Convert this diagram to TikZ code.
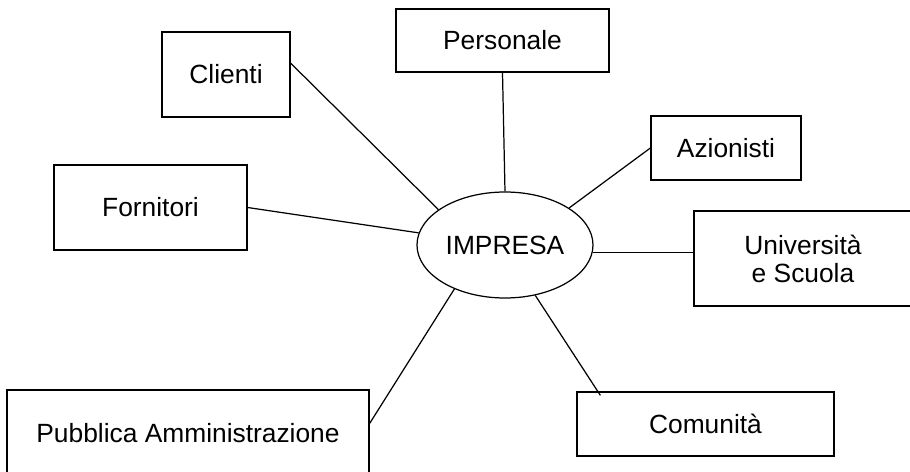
\documentclass[tikz,border=0pt]{standalone}
\usepackage{fontspec}
\setmainfont{Liberation Sans}
\usetikzlibrary{shapes.geometric}

\begin{document}
\begin{tikzpicture}[
    box/.style={draw, rectangle, line width=0.7pt, inner sep=2pt, font=\fontsize{15}{16}\selectfont},
    link/.style={line width=0.7pt}
  ]
  \useasboundingbox (0,0) rectangle (18.2,-9.44);
  \clip (0,0) rectangle (18.2,-9.44);
  \node[box, minimum width=2.56cm, minimum height=1.70cm] (cli)  at (4.52,-1.49) {Clienti};
  \node[box, minimum width=4.26cm, minimum height=1.26cm] (pers) at (10.05,-0.81) {Personale};
  \node[box, minimum width=3.00cm, minimum height=1.28cm] (azi)  at (14.52,-2.96) {Azionisti};
  \node[box, minimum width=3.86cm, minimum height=1.70cm] (forn) at (3.01,-4.15) {Fornitori};
  \node[box, minimum width=4.36cm, minimum height=1.90cm, align=center] (uni) at (16.06,-5.17) {Università\\e Scuola};
  \node[box, minimum width=7.24cm, minimum height=1.72cm] (pa)   at (3.76,-8.66) {Pubblica Amministrazione};
  \node[box, minimum width=5.14cm, minimum height=1.28cm] (com)  at (14.11,-8.48) {Comunità};
  \node[draw, ellipse, line width=0.7pt, minimum width=3.52cm, minimum height=2.12cm, inner sep=0pt,
        font=\fontsize{15}{16}\selectfont] (imp) at (10.1,-4.9) {IMPRESA};
  \coordinate (comtop) at ([xshift=0.48cm, yshift=-0.08cm]com.north west);
  \draw[link] (cli.10)     -- (imp.152);
  \draw[link] (pers.south) -- (imp.north);
  \draw[link] (azi.west)   -- (imp.30);
  \draw[link] (forn.east)  -- (imp.172);
  \draw[link] (imp.355)    -- (imp.355 -| uni.west);
  \draw[link] (pa.3)       -- (imp.221);
  \draw[link] (imp.301)    -- (comtop);
\end{tikzpicture}
\end{document}
